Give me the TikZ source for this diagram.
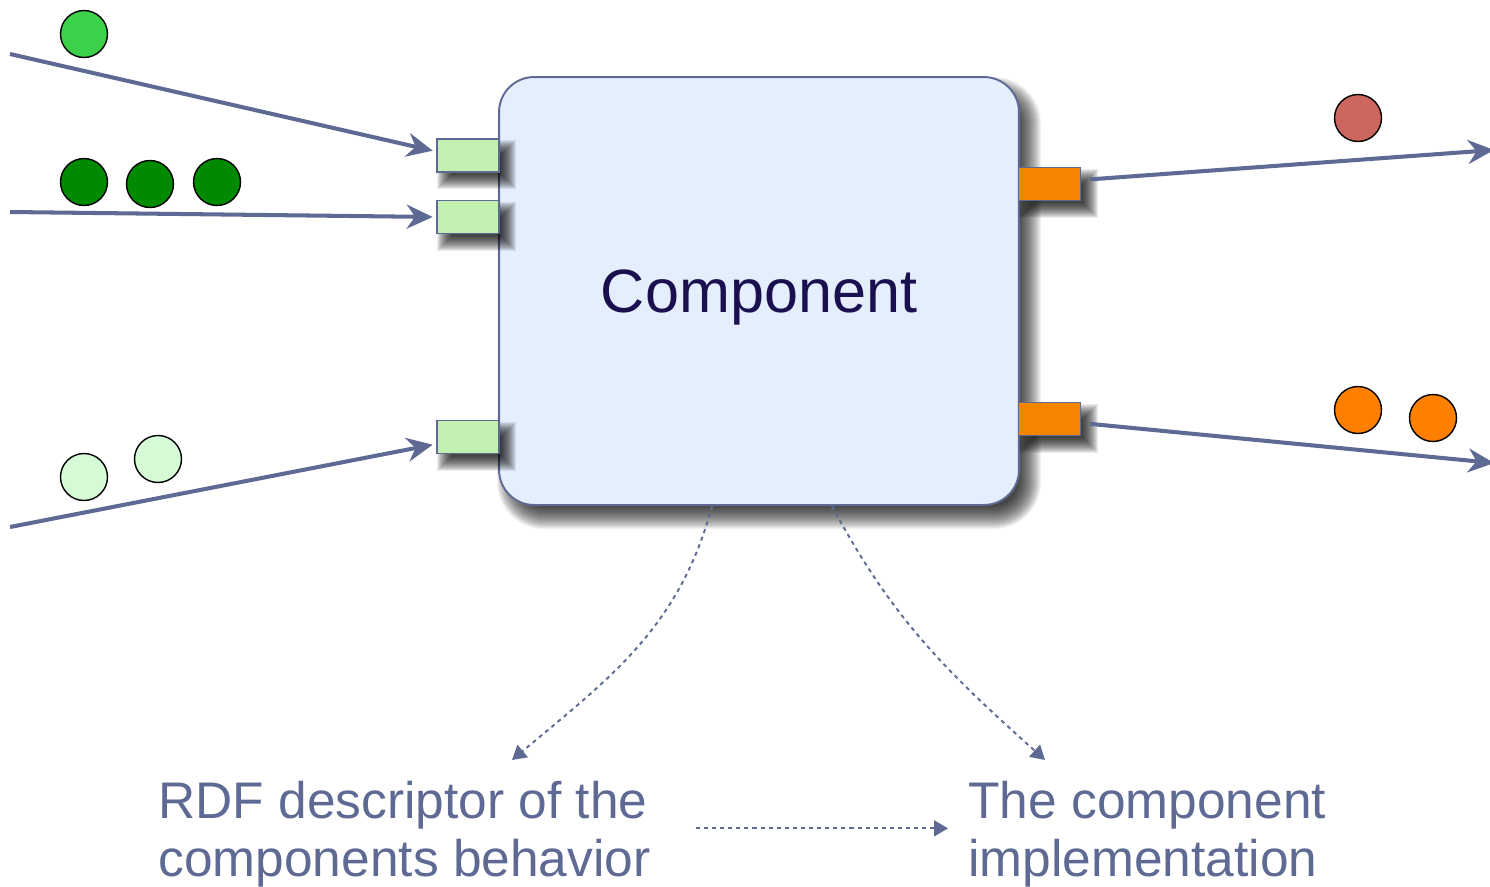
\documentclass[tikz,border=0pt]{standalone}
\usepackage{fontspec}
\setmainfont{Liberation Sans}
\usetikzlibrary{arrows.meta}
\definecolor{flowcolor}{RGB}{94,106,148}
\definecolor{boxcolor}{RGB}{228,238,252}
\definecolor{incolor}{RGB}{195,239,176}
\definecolor{outcolor}{RGB}{245,133,0}
\definecolor{titlecolor}{RGB}{26,16,80}
\definecolor{lightgreen}{RGB}{59,209,74}
\definecolor{darkgreen}{RGB}{0,138,0}
\definecolor{palegreen}{RGB}{213,250,213}
\definecolor{redtoken}{RGB}{205,102,94}
\definecolor{orangetoken}{RGB}{255,127,0}

\begin{document}
\begin{tikzpicture}[x=0.02cm, y=-0.02cm, >=Stealth,
    port/.style={draw=flowcolor, line width=0.9pt, inner sep=0pt, minimum width=1.24cm, minimum height=0.66cm},
    token/.style={circle, draw=black, line width=0.8pt, inner sep=0pt, minimum size=0.94cm},
    flow/.style={draw=flowcolor, line width=2.3pt, -{Stealth[length=0.52cm, width=0.48cm]}},
    dotflow/.style={draw=flowcolor, line width=1.1pt, dash pattern=on 2.3pt off 2.3pt, -{Triangle[length=0.28cm, width=0.32cm]}},
    note/.style={align=left, inner sep=0pt, text=flowcolor, font=\fontsize{29.3}{33}\selectfont}]
    \useasboundingbox (0,0) rectangle (1490,886);

    % Soft shadow of the component, stacked translucent layers
    \foreach \i in {0,...,23} {
        \pgfmathsetmacro{\r}{(47-\i)*0.02}
        \fill[black, opacity=0.05, rounded corners=\r cm] (497+\i,77+\i) rectangle (1041-\i,529-\i);
    }

    % The component itself
    \node[draw=flowcolor, fill=boxcolor, line width=1.1pt, rounded corners=0.7cm,
      minimum width=10.4cm, minimum height=8.56cm, text=titlecolor, text depth=0pt,
      font=\fontsize{34.8}{40}\selectfont] (CO) at (759,291) {Component};

    % Input ports (left) and output ports (right), each with its shadow
    \foreach \n/\c/\x/\y in {IN1/incolor/468/155.5, IN2/incolor/468/217, IN3/incolor/468/437,
                             OUT1/outcolor/1049.5/184, OUT2/outcolor/1049.5/419} {
        \foreach \i in {0,...,15} {
            \fill[black, opacity=0.08] (\x-31+\i,\y-15.5+\i) rectangle (\x+48-\i,\y+33.5-\i);
        }
        \node[port, fill=\c] (\n) at (\x,\y) {};
    }

    % Free ends of the flows
    \coordinate (S1) at (10,54);
    \coordinate (S2) at (10,212);
    \coordinate (S3) at (10,527);
    \coordinate (T1) at (1494,150);
    \coordinate (T2) at (1494,463);

    % Flows
    \draw[flow, shorten >=2pt] (S1) -- ([yshift=0.08cm]IN1.west);
    \draw[flow, shorten >=2pt] (S2) -- (IN2.west);
    \draw[flow, shorten >=2pt] (S3) -- ([yshift=-0.14cm]IN3.west);
    \draw[flow, shorten <=5pt] ([yshift=0.08cm]OUT1.east) -- (T1);
    \draw[flow, shorten <=5pt] ([yshift=-0.08cm]OUT2.east) -- (T2);

    % Tokens on the flows
    \node[token, fill=lightgreen] (A1) at (84,34) {};
    \foreach \n/\x/\y in {B1/84/182, B2/150/184, B3/217/182} {
        \node[token, fill=darkgreen] (\n) at (\x,\y) {};
    }
    \foreach \n/\x/\y in {C1/84/477, C2/158/459} {
        \node[token, fill=palegreen] (\n) at (\x,\y) {};
    }
    \node[token, fill=redtoken] (D1) at (1358,118) {};
    \foreach \n/\x/\y in {E1/1358/410, E2/1433/418} {
        \node[token, fill=orangetoken] (\n) at (\x,\y) {};
    }

    % Descriptions below
    \node[note, anchor=north west] (RDF) at (158,781) {RDF descriptor of the\\components behavior};
    \node[note, anchor=north west] (IMPL) at (968,781) {The component\\implementation};
    \coordinate (RDFtip) at (512,760);
    \coordinate (IMPLtip) at (1045,760);

    \draw[dotflow] ([xshift=-0.94cm]CO.south) to[out=-105, in=40] (RDFtip);
    \draw[dotflow] ([xshift=1.46cm]CO.south) to[out=-62, in=138] (IMPLtip);
    \draw[dotflow, shorten <=0.9cm, shorten >=0.4cm] ([yshift=0.12cm]RDF.east) -- ([yshift=0.12cm]IMPL.west);
\end{tikzpicture}
\end{document}
